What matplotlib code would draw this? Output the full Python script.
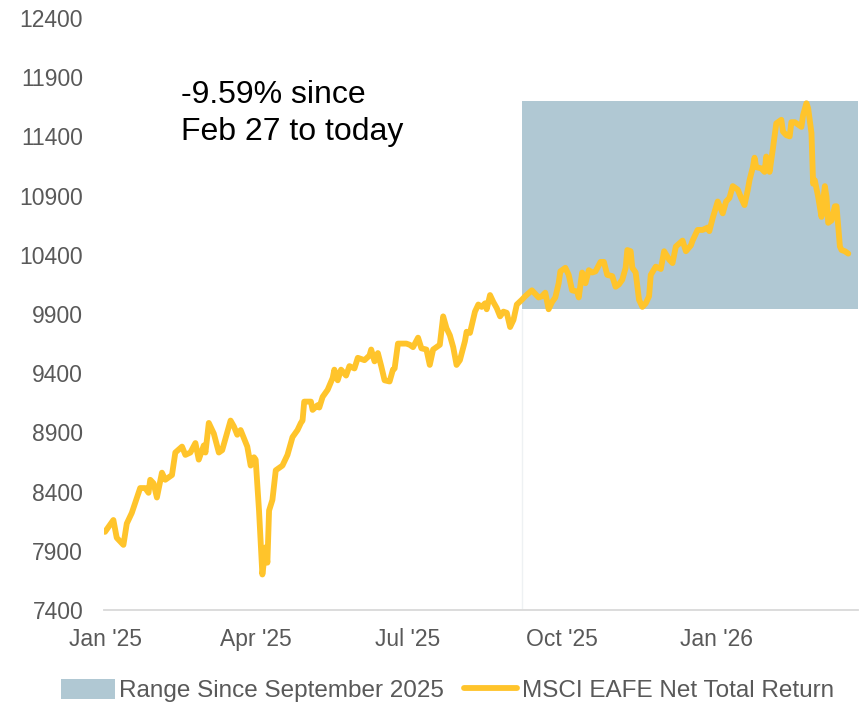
import matplotlib
matplotlib.use("Agg")
import matplotlib.pyplot as plt
import matplotlib.dates as mdates
import numpy as np
import pandas as pd

plt.rcParams["font.family"] = ["Liberation Sans", "DejaVu Sans"]

# Series: day offsets from 2025-01-01 and index level
base_date = "2025-01-01"
day_offsets = [
    0, 5, 7, 11, 13, 16, 21, 24, 26, 27,
    29, 31, 34, 36, 40, 42, 46, 48, 51, 54,
    56, 59, 60, 62, 65, 68, 70, 75, 77, 79,
    81, 83, 85, 87, 89, 90, 92, 94, 96, 97,
    98, 100, 102, 106, 109, 112, 115, 117, 118, 119,
    123, 124, 127, 128, 130, 133, 136, 137, 139, 141,
    144, 146, 149, 151, 155, 158, 159, 161, 163, 165,
    167, 170, 172, 173, 175, 180, 182, 184, 187, 189,
    192, 194, 196, 200, 202, 204, 206, 208, 210, 212,
    215, 216, 218, 221, 223, 225, 227, 228, 230, 232,
    234, 236, 238, 240, 242, 244, 246, 249, 251, 255,
    259, 261, 263, 265, 267, 269, 271, 272, 275, 277,
    279, 282, 283, 285, 287, 289, 291, 293, 296, 298,
    300, 303, 305, 307, 309, 311, 312, 314, 315, 317,
    319, 321, 323, 325, 326, 329, 332, 334, 337, 339,
    341, 345, 347, 350, 351, 354, 357, 360, 361, 363,
    366, 369, 371, 373, 375, 378, 380, 382, 384, 385,
    387, 388, 389, 392, 394, 395, 397, 399, 401, 404,
    405, 407, 409, 410, 412, 414, 416, 417, 419, 420,
    422, 423, 424, 426, 428, 430, 431, 432, 434, 436,
    437, 439, 440, 442, 444,
]
eafe_values = [
    8060, 8160, 8010, 7950, 8130, 8220, 8430, 8430, 8390, 8500,
    8470, 8350, 8560, 8500, 8540, 8730, 8780, 8710, 8730, 8810,
    8670, 8790, 8730, 8980, 8890, 8730, 8750, 9000, 8950, 8880,
    8920, 8850, 8780, 8620, 8690, 8670, 8240, 7700, 7930, 7800,
    8240, 8330, 8580, 8620, 8710, 8860, 8920, 8980, 9000, 9160,
    9160, 9090, 9130, 9110, 9200, 9260, 9360, 9430, 9340, 9430,
    9380, 9460, 9440, 9530, 9510, 9550, 9600, 9500, 9570, 9460,
    9340, 9330, 9430, 9440, 9650, 9650, 9640, 9620, 9700, 9610,
    9600, 9470, 9600, 9640, 9880, 9780, 9720, 9620, 9470, 9510,
    9670, 9750, 9740, 9920, 9980, 9960, 9990, 9940, 10060, 10000,
    9950, 9880, 9920, 9910, 9790, 9850, 9980, 10020, 10050, 10100,
    10040, 10050, 10080, 9940, 10000, 10040, 10160, 10260, 10290, 10230,
    10100, 10090, 10040, 10250, 10160, 10270, 10250, 10260, 10340, 10340,
    10230, 10220, 10130, 10150, 10190, 10290, 10440, 10430, 10290, 10250,
    10020, 9960, 9990, 10050, 10230, 10300, 10280, 10430, 10360, 10330,
    10470, 10520, 10430, 10480, 10520, 10610, 10610, 10630, 10600, 10710,
    10850, 10750, 10850, 10880, 10980, 10950, 10880, 10820, 10950, 11030,
    11140, 11220, 11140, 11130, 11100, 11230, 11100, 11300, 11510, 11540,
    11440, 11410, 11400, 11520, 11520, 11500, 11480, 11580, 11680, 11640,
    11430, 11000, 11030, 10890, 10720, 10980, 10890, 10670, 10690, 10810,
    10810, 10470, 10440, 10430, 10410,
]

# Shaded range since September 2025
range_start = "2025-09-07"
range_low = 9940
range_high = 11700

annotation = "-9.59% since\nFeb 27 to today"
line_label = "MSCI EAFE Net Total Return"
range_label = "Range Since September 2025"

LINE_COLOR = "#FFC42B"
RANGE_COLOR = "#B0C8D3"
TICK_COLOR = "#595959"

dates = pd.Timestamp(base_date) + pd.to_timedelta(day_offsets, unit="D")
x_left = pd.Timestamp(base_date) - pd.Timedelta(days=0.6)
x_right = pd.Timestamp(base_date) + pd.Timedelta(days=449.8)

fig = plt.figure(figsize=(8.61, 7.08), dpi=100)
ax = fig.add_axes([0.1208, 0.1384, 0.8757, 0.8362])

ax.fill_between([pd.Timestamp(range_start), x_right], range_low, range_high,
                color=RANGE_COLOR, linewidth=0, label=range_label, zorder=1)
ax.vlines(pd.Timestamp(range_start), 7400, range_low, color="#EEF1F3",
          linewidth=1.0, zorder=1)
ax.plot(dates, eafe_values, color=LINE_COLOR, linewidth=4.2,
        solid_joinstyle="round", solid_capstyle="round",
        label=line_label, zorder=3)

ax.set_xlim(x_left, x_right)
ax.set_ylim(7400, 12400)
ax.set_yticks(np.arange(7400, 12401, 500))
ax.xaxis.set_major_locator(mdates.MonthLocator(bymonth=[1, 4, 7, 10]))
ax.xaxis.set_major_formatter(mdates.DateFormatter("%b '%y"))
ax.tick_params(axis="y", length=0, pad=15, labelsize=16.5, labelcolor=TICK_COLOR)
ax.tick_params(axis="x", length=0, pad=13, labelsize=16.5, labelcolor=TICK_COLOR)

for side in ["top", "right", "left"]:
    ax.spines[side].set_visible(False)
ax.spines["bottom"].set_color("#D9D9D9")
ax.spines["bottom"].set_linewidth(1.3)

fig.text(181 / 861, 1 - 80 / 708, annotation, fontsize=23, color="black",
         ha="left", va="top", linespacing=1.3)

handles, labels = ax.get_legend_handles_labels()
fig.legend(handles, labels, loc="center", bbox_to_anchor=(0.52, 0.025),
           ncol=2, frameon=False, fontsize=17.5, handlelength=2.2,
           handleheight=0.9, handletextpad=0.2, columnspacing=0.8,
           labelcolor=TICK_COLOR)

fig.savefig("out.png", dpi=100)
plt.close(fig)
